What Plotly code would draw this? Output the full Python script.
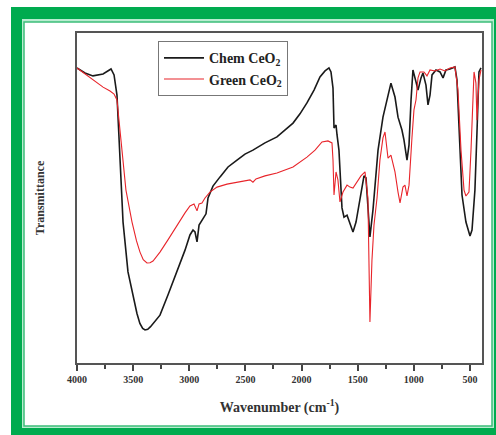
import plotly.graph_objects as go

# FTIR spectra of CeO2 nanoparticles (chemical vs. green synthesis)
chem_wavenumber = [4000, 3929, 3858, 3768, 3697, 3670, 3644, 3617, 3590, 3546, 3500, 3466, 3440,
                   3415, 3394, 3370, 3345, 3310, 3261, 3190, 3109, 3038, 2994, 2967, 2949, 2931,
                   2913, 2878, 2851, 2833, 2789, 2726, 2655, 2575, 2504, 2433, 2326, 2219, 2076,
                   2014, 1952, 1889, 1836, 1791, 1756, 1738, 1720, 1711, 1693, 1684, 1667, 1640,
                   1622, 1595, 1569, 1542, 1515, 1497, 1471, 1444, 1426, 1409, 1391, 1364, 1319,
                   1275, 1239, 1204, 1168, 1141, 1106, 1088, 1061, 1043, 1025, 1008, 981, 963,
                   936, 919, 892, 874, 856, 838, 803, 767, 740, 714, 678, 634, 616, 598, 571, 536,
                   500, 482, 456, 438, 420, 402]
chem_transmittance = [89.4, 87.9, 87.0, 87.6, 89.1, 87.3, 81.2, 63.0, 42.7, 27.6, 20.0, 15.0, 12.0,
                      10.5, 10.0, 10.2, 11.0, 12.4, 14.5, 20.6, 27.6, 34.2, 38.8, 40.3, 39.7, 36.7,
                      41.8, 43.9, 45.2, 50.0, 53.6, 56.4, 59.4, 61.5, 63.3, 64.5, 66.7, 68.5, 72.7,
                      75.5, 78.8, 82.7, 86.7, 88.5, 89.4, 88.2, 83.3, 71.2, 72.1, 69.1, 64.5, 47.0,
                      44.2, 44.8, 42.4, 39.7, 42.7, 46.4, 51.8, 56.7, 56.1, 46.4, 38.2, 46.4, 64.5,
                      74.5, 79.7, 84.8, 80.6, 74.5, 70.6, 67.6, 61.5, 66.1, 79.7, 88.8, 85.2, 82.7,
                      86.4, 87.9, 84.2, 78.2, 81.2, 87.3, 88.8, 88.2, 86.4, 88.8, 89.1, 89.7, 85.8,
                      70.6, 50.9, 42.7, 38.5, 40.3, 52.4, 69.7, 88.2, 89.4]

green_wavenumber = [4000, 3929, 3840, 3768, 3706, 3670, 3644, 3617, 3590, 3564, 3510, 3470, 3439,
                    3410, 3377, 3350, 3323, 3261, 3190, 3109, 3038, 2994, 2958, 2931, 2913, 2887,
                    2860, 2816, 2753, 2664, 2575, 2459, 2433, 2406, 2326, 2219, 2076, 1952, 1880,
                    1818, 1765, 1729, 1720, 1711, 1693, 1676, 1658, 1631, 1595, 1569, 1542, 1506,
                    1471, 1435, 1409, 1391, 1373, 1355, 1328, 1302, 1275, 1257, 1230, 1204, 1168,
                    1141, 1123, 1097, 1079, 1061, 1043, 1017, 999, 981, 963, 945, 910, 883, 856,
                    812, 767, 723, 678, 634, 607, 580, 553, 536, 509, 491, 464, 447, 438, 420, 402]
green_transmittance = [89.4, 87.6, 85.5, 83.6, 82.4, 81.5, 79.7, 70.0, 60.0, 52.4, 42.7, 37.0,
                       33.6, 31.3, 30.3, 30.4, 30.9, 33.6, 37.3, 41.8, 45.5, 47.6, 48.2, 46.1, 48.2,
                       48.5, 50.0, 51.8, 53.3, 54.2, 54.8, 55.5, 54.8, 55.8, 56.7, 57.6, 59.4, 62.4,
                       64.5, 67.0, 67.3, 66.7, 61.5, 50.9, 57.9, 55.5, 48.8, 51.8, 53.9, 53.3, 53.0,
                       54.8, 56.7, 57.9, 50.0, 12.4, 31.2, 41.8, 50.0, 61.5, 68.2, 70.0, 62.1, 63.0,
                       57.9, 51.8, 48.5, 53.3, 53.9, 50.6, 53.9, 68.2, 76.7, 79.7, 86.4, 88.2, 88.2,
                       87.0, 88.8, 88.5, 89.1, 88.5, 89.4, 89.7, 82.7, 64.5, 52.4, 50.6, 51.8, 64.5,
                       88.2, 84.8, 73.6, 85.8, 88.8]

x_ticks = [4000, 3500, 3000, 2500, 2000, 1500, 1000, 500]
x_minor = [3750, 3250, 2750, 2250, 1750, 1250, 750]

serif = "Liberation Serif, Times New Roman, serif"
W, H = 496, 435

fig = go.Figure()
fig.add_trace(go.Scatter(x=chem_wavenumber, y=chem_transmittance, mode="lines",
                         name="<b>Chem CeO<sub>2</sub></b>",
                         line=dict(color="#1a1a1a", width=1.6)))
fig.add_trace(go.Scatter(x=green_wavenumber, y=green_transmittance, mode="lines",
                         name="<b>Green CeO<sub>2</sub></b>",
                         line=dict(color="#e8242a", width=1.1)))


def px_rect(x0, y0, x1, y1, **kw):
    # rectangle given in page pixels
    return dict(type="rect", xref="paper", yref="paper", layer="below",
                x0=(x0 - 77) / 405, x1=(x1 - 77) / 405,
                y0=(363 - y1) / 330, y1=(363 - y0) / 330, **kw)


# green decorative frame around the figure
shapes = [
    px_rect(11, 7, 496, 435, fillcolor="#00ab4f", line=dict(width=0)),
    px_rect(22, 19, 494, 428, fillcolor="#b9ecd0", line=dict(width=0)),
    px_rect(24, 22, 492, 426, fillcolor="#ffffff", line=dict(color="#3dbd7a", width=1.5)),
    px_rect(27, 26, 489, 421, fillcolor="#ffffff", line=dict(width=0)),
]

fig.update_layout(
    width=W, height=H,
    margin=dict(l=77, r=14, t=33, b=72),
    paper_bgcolor="white", plot_bgcolor="white",
    shapes=shapes,
    showlegend=True,
    legend=dict(x=0.2, y=0.975, xanchor="left", yanchor="top",
                bgcolor="white", bordercolor="#777", borderwidth=1,
                font=dict(family=serif, size=14, color="#222"),
                tracegroupgap=0, itemwidth=40),
    xaxis=dict(range=[4000, 393], tickmode="array", tickvals=x_ticks,
               ticktext=["<b>%d</b>" % v for v in x_ticks],
               ticks="outside", ticklen=6, tickwidth=1.5, tickcolor="#444",
               minor=dict(tickmode="array", tickvals=x_minor, ticks="outside",
                          ticklen=4, tickwidth=1.5, tickcolor="#444", showgrid=False),
               showline=True, linecolor="#555", linewidth=1.5, mirror=True,
               showgrid=False, zeroline=False,
               tickfont=dict(family=serif, size=10, color="#333"),
               title=dict(text="<b>Wavenumber (cm<sup>-1</sup>)</b>",
                          font=dict(family=serif, size=14, color="#333"), standoff=18)),
    yaxis=dict(range=[0, 100], showticklabels=False, ticks="",
               showline=True, linecolor="#555", linewidth=1.5, mirror=True,
               showgrid=False, zeroline=False,
               title=dict(text="<b>Transmittance</b>",
                          font=dict(family=serif, size=12, color="#333"), standoff=28)),
)

fig.write_html("out.html")
